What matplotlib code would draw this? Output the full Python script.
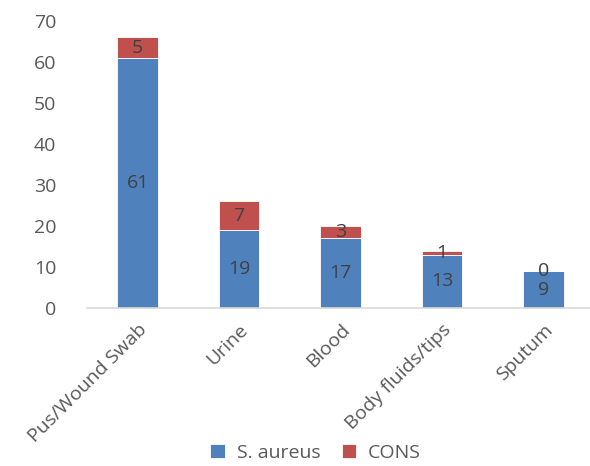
import matplotlib.pyplot as plt
import numpy as np

categories = ["Pus/Wound Swab", "Urine", "Blood", "Body fluids/tips", "Sputum"]
s_aureus = [61, 19, 17, 13, 9]
cons = [5, 7, 3, 1, 0]

plt.rcParams["font.family"] = ["Open Sans", "DejaVu Sans"]
text_color = "#595959"
blue = "#4F81BD"
red = "#C0504D"
fs = 14

fig = plt.figure(figsize=(5.9, 4.66), dpi=100)
ax = fig.add_axes([87 / 590, (466 - 308) / 466, 507 / 590, 287 / 466])

x = np.arange(len(categories))
b1 = ax.bar(x, s_aureus, width=0.4, color=blue, edgecolor="white", linewidth=0.6,
            label="S. aureus")
b2 = ax.bar(x, cons, width=0.4, bottom=s_aureus, color=red, edgecolor="white",
            linewidth=0.6, label="CONS")

for xi, a, c in zip(x, s_aureus, cons):
    ax.text(xi, a / 2, str(a), ha="center", va="center", fontsize=fs, color="#404040")
    ax.text(xi, a + c / 2, str(c), ha="center", va="center", fontsize=fs, color="#404040")

ax.set_ylim(0, 70)
ax.set_xlim(-0.5, len(categories) - 0.5)
ax.set_yticks(range(0, 71, 10))
ax.set_xticks(x)
ax.set_xticklabels(categories, rotation=45, ha="right", rotation_mode="anchor")
ax.tick_params(axis="both", length=0, labelsize=fs, labelcolor=text_color)
ax.tick_params(axis="y", pad=22)
ax.tick_params(axis="x", pad=9)

for side in ("top", "right", "left"):
    ax.spines[side].set_visible(False)
ax.spines["bottom"].set_color("#d9d9d9")
ax.spines["bottom"].set_linewidth(1.2)

fig.legend(handles=[b1, b2], loc="center", bbox_to_anchor=(0.535, 1 - 453 / 466), ncol=2,
           frameon=False, fontsize=fs, labelcolor=text_color, handlelength=0.75,
           handleheight=0.75, handletextpad=0.6, columnspacing=1.1)

fig.savefig("out.png", dpi=100)
